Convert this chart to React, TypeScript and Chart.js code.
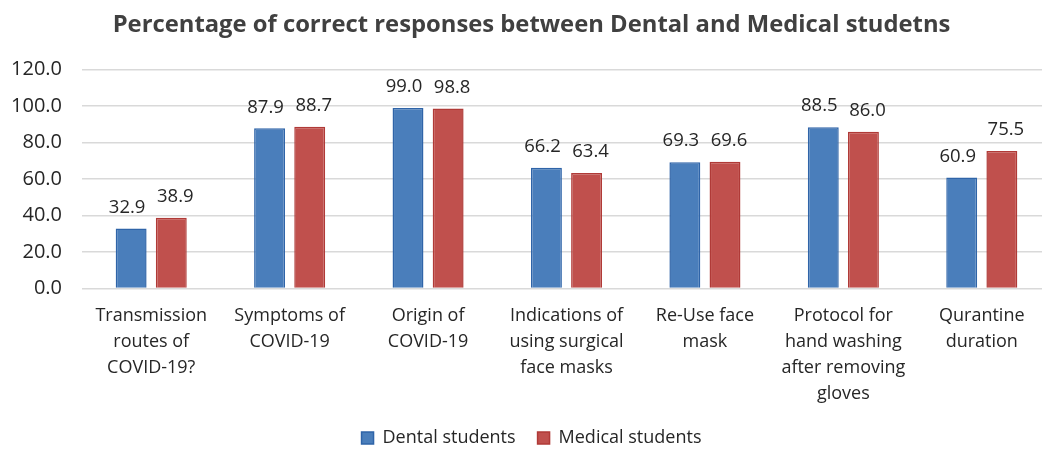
import React, { useEffect, useRef } from "react";
import { Chart, registerables } from "chart.js";

Chart.register(...registerables);

const categories: string[][] = [
  ["Transmission", "routes of", "COVID-19?"],
  ["Symptoms of", "COVID-19"],
  ["Origin of", "COVID-19"],
  ["Indications of", "using surgical", "face masks"],
  ["Re-Use face", "mask"],
  ["Protocol for", "hand washing", "after removing", "gloves"],
  ["Qurantine", "duration"],
];
const dentalValues = [32.9, 87.9, 99.0, 66.2, 69.3, 88.5, 60.9];
const medicalValues = [38.9, 88.7, 98.8, 63.4, 69.6, 86.0, 75.5];
const seriesNames = ["Dental students", "Medical students"];
const titleText = "Percentage of correct responses between Dental and Medical studetns";

const FONT = "'Open Sans', Lato, sans-serif";

const valueLabels = {
  id: "valueLabels",
  afterDatasetsDraw(chart: any) {
    const ctx = chart.ctx;
    ctx.save();
    ctx.font = `18.5px ${FONT}`;
    ctx.fillStyle = "#262626";
    ctx.textAlign = "center";
    ctx.textBaseline = "middle";
    chart.data.datasets.forEach((ds: any, i: number) => {
      const meta = chart.getDatasetMeta(i);
      const dx = i === 0 ? -4 : 4;
      meta.data.forEach((bar: any, j: number) => {
        const v = ds.data[j] as number;
        ctx.fillText(v.toFixed(1), bar.x + dx, bar.y - 21);
      });
    });
    ctx.restore();
  },
};

export default function App() {
  const ref = useRef<HTMLCanvasElement>(null);
  useEffect(() => {
    if (!ref.current) return;
    const chart = new Chart(ref.current, {
      type: "bar",
      data: {
        labels: categories,
        datasets: [
          {
            label: seriesNames[0],
            data: dentalValues,
            backgroundColor: "#4a7ebb",
            borderColor: "#2f64a8",
            borderWidth: 1.5,
            barPercentage: 0.77,
            categoryPercentage: 0.58,
          },
          {
            label: seriesNames[1],
            data: medicalValues,
            backgroundColor: "#c0504d",
            borderColor: "#b03a37",
            borderWidth: 1.5,
            barPercentage: 0.77,
            categoryPercentage: 0.58,
          },
        ],
      },
      options: {
        responsive: false,
        animation: false,
        layout: { padding: { left: 12, right: 5, top: 0, bottom: -6 } },
        plugins: {
          title: {
            display: true,
            text: titleText,
            color: "#404040",
            font: { family: FONT, size: 23.8, weight: "bold" },
            padding: { top: 10.6, bottom: 30.6 },
          },
          legend: {
            position: "bottom",
            labels: {
              color: "#262626",
              font: { family: FONT, size: 18 },
              boxWidth: 12,
              boxHeight: 12,
              padding: 22,
            },
          },
          tooltip: { enabled: false },
        },
        scales: {
          x: {
            grid: { display: false, drawTicks: false },
            border: { display: false },
            ticks: {
              color: "#262626",
              font: { family: FONT, size: 18, lineHeight: 1.45 },
              maxRotation: 0,
              autoSkip: false,
              padding: 14,
            },
            afterFit: (s: any) => {
              s.paddingLeft = 0;
              s.paddingRight = 0;
              s.height -= 14;
            },
          },
          y: {
            min: 0,
            max: 120,
            border: { display: false },
            grid: { color: "#d9d9d9", lineWidth: 1.5, drawTicks: false },
            ticks: {
              stepSize: 20,
              color: "#262626",
              font: { family: FONT, size: 20 },
              padding: 20,
              callback: (v: any) => Number(v).toFixed(1),
            },
            afterFit: (s: any) => {
              s.width = 70;
            },
          },
        },
      },
      plugins: [valueLabels],
    });
    return () => chart.destroy();
  }, []);
  return (
    <div style={{ position: "fixed", left: 0, top: 0, width: 1042, height: 451, background: "#fff", overflow: "hidden" }}>
      <canvas ref={ref} width={1056} height={451} style={{ display: "block" }} />
    </div>
  );
}
